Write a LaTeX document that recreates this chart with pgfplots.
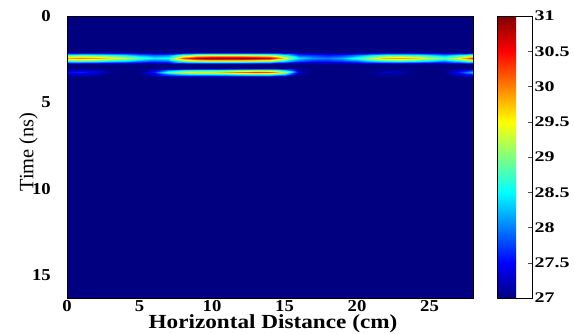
\documentclass[border=0pt]{standalone}
\usepackage{pgfplots}
\pgfplotsset{compat=1.18}
\usepackage{fontspec}
\setmainfont{Liberation Serif}
\begin{document}
\begin{tikzpicture}
\useasboundingbox (-50.25pt,-26.25pt) rectangle (380.25pt,223.5pt);
\begin{axis}[
  at={(0,0)}, anchor=south west,
  scale only axis, width=304.5pt, height=211.5pt,
  xmin=0, xmax=28, ymin=0, ymax=16.3,
  y dir=reverse,
  enlargelimits=false,
  axis on top,
  /pgf/number format/assume math mode=true,
  major tick length=0pt,
  xtick={0,5,10,15,20,25}, ytick={0,5,10,15},
  xticklabel={\scalebox{1.12}[1]{\pgfmathprintnumber{\tick}}},
  yticklabel={\scalebox{1.12}[1]{\pgfmathprintnumber{\tick}}},
  ticklabel style={font=\bfseries\fontsize{12.5}{14}\selectfont},
  xticklabel style={anchor=north, inner sep=0pt, yshift=-1.5pt},
  yticklabel style={anchor=east, inner sep=0pt, xshift=-12pt},
  xlabel={\scalebox{1.16}[1]{Horizontal Distance (cm)}},
  xlabel style={font=\bfseries\fontsize{15}{18}\selectfont, at={(axis description cs:0.5,0)}, anchor=north, inner sep=0pt, yshift=-12.6pt, xshift=2.25pt},
  ylabel={Time (ns)},
  ylabel style={font=\fontsize{15.3}{18}\selectfont, at={(axis description cs:-0.0714,0.518)}, anchor=south, inner sep=0pt},
  colormap/jet,
  point meta min=27, point meta max=31,
  colorbar,
  colorbar style={
    width=26.25pt,
    at={(parent axis.north east)}, anchor=north west, xshift=9.5pt,
    ytick={27,27.5,28,28.5,29,29.5,30,30.5,31},
    ytick pos=right, yticklabel pos=right,
    tick align=inside, major tick length=3pt,
    major tick style={black!70},
    /pgf/number format/assume math mode=true,
    yticklabel={\scalebox{1.36}[1]{\pgfmathprintnumber{\tick}}},
    yticklabel style={font=\bfseries\fontsize{11}{13}\selectfont, anchor=west, inner sep=0pt, xshift=1.8pt},
  },
]
\addplot[surf, shader=interp, mesh/cols=29, point meta=explicit] table[row sep=\\, x=x, y=y, meta=c] {
x y c\\
0 0 27\\ 1 0 27\\ 2 0 27\\ 3 0 27\\ 4 0 27\\ 5 0 27\\ 6 0 27\\ 7 0 27\\ 8 0 27\\ 9 0 27\\ 10 0 27\\ 11 0 27\\ 12 0 27\\ 13 0 27\\ 14 0 27\\ 15 0 27\\ 16 0 27\\ 17 0 27\\ 18 0 27\\ 19 0 27\\ 20 0 27\\ 21 0 27\\ 22 0 27\\ 23 0 27\\ 24 0 27\\ 25 0 27\\ 26 0 27\\ 27 0 27\\ 28 0 27\\
0 2.07 27\\ 1 2.07 27\\ 2 2.07 27\\ 3 2.07 27\\ 4 2.07 27\\ 5 2.07 27\\ 6 2.07 27\\ 7 2.07 27\\ 8 2.07 27\\ 9 2.07 27\\ 10 2.07 27\\ 11 2.07 27\\ 12 2.07 27\\ 13 2.07 27\\ 14 2.07 27\\ 15 2.07 27\\ 16 2.07 27\\ 17 2.07 27\\ 18 2.07 27\\ 19 2.07 27\\ 20 2.07 27\\ 21 2.07 27\\ 22 2.07 27\\ 23 2.07 27\\ 24 2.07 27\\ 25 2.07 27\\ 26 2.07 27\\ 27 2.07 27\\ 28 2.07 27\\
0 2.26 28.7\\ 1 2.26 28.8\\ 2 2.26 28.7\\ 3 2.26 28.6\\ 4 2.26 28.4\\ 5 2.26 28.1\\ 6 2.26 27.9\\ 7 2.26 28.0\\ 8 2.26 28.9\\ 9 2.26 29.3\\ 10 2.26 29.4\\ 11 2.26 29.4\\ 12 2.26 29.4\\ 13 2.26 29.3\\ 14 2.26 29.2\\ 15 2.26 28.6\\ 16 2.26 27.8\\ 17 2.26 27.7\\ 18 2.26 27.6\\ 19 2.26 27.7\\ 20 2.26 28.0\\ 21 2.26 28.4\\ 22 2.26 28.7\\ 23 2.26 28.7\\ 24 2.26 28.6\\ 25 2.26 28.4\\ 26 2.26 28.1\\ 27 2.26 28.5\\ 28 2.26 29.0\\
0 2.43 29.9\\ 1 2.43 30.0\\ 2 2.43 29.9\\ 3 2.43 29.6\\ 4 2.43 29.3\\ 5 2.43 28.9\\ 6 2.43 28.5\\ 7 2.43 28.6\\ 8 2.43 30.2\\ 9 2.43 30.8\\ 10 2.43 31.0\\ 11 2.43 31.0\\ 12 2.43 31.0\\ 13 2.43 30.9\\ 14 2.43 30.7\\ 15 2.43 29.6\\ 16 2.43 28.4\\ 17 2.43 28.1\\ 18 2.43 28.0\\ 19 2.43 28.2\\ 20 2.43 28.7\\ 21 2.43 29.3\\ 22 2.43 29.8\\ 23 2.43 29.9\\ 24 2.43 29.7\\ 25 2.43 29.3\\ 26 2.43 28.9\\ 27 2.43 29.5\\ 28 2.43 30.4\\
0 2.6 28.6\\ 1 2.6 28.7\\ 2 2.6 28.6\\ 3 2.6 28.4\\ 4 2.6 28.3\\ 5 2.6 28.0\\ 6 2.6 27.8\\ 7 2.6 27.9\\ 8 2.6 28.8\\ 9 2.6 29.1\\ 10 2.6 29.2\\ 11 2.6 29.2\\ 12 2.6 29.2\\ 13 2.6 29.1\\ 14 2.6 29.0\\ 15 2.6 28.4\\ 16 2.6 27.8\\ 17 2.6 27.6\\ 18 2.6 27.6\\ 19 2.6 27.7\\ 20 2.6 27.9\\ 21 2.6 28.3\\ 22 2.6 28.5\\ 23 2.6 28.6\\ 24 2.6 28.5\\ 25 2.6 28.3\\ 26 2.6 28.0\\ 27 2.6 28.4\\ 28 2.6 28.9\\
0 2.79 27\\ 1 2.79 27\\ 2 2.79 27\\ 3 2.79 27\\ 4 2.79 27\\ 5 2.79 27\\ 6 2.79 27\\ 7 2.79 27\\ 8 2.79 27\\ 9 2.79 27\\ 10 2.79 27\\ 11 2.79 27\\ 12 2.79 27\\ 13 2.79 27\\ 14 2.79 27\\ 15 2.79 27\\ 16 2.79 27\\ 17 2.79 27\\ 18 2.79 27\\ 19 2.79 27\\ 20 2.79 27\\ 21 2.79 27\\ 22 2.79 27\\ 23 2.79 27\\ 24 2.79 27\\ 25 2.79 27\\ 26 2.79 27\\ 27 2.79 27\\ 28 2.79 27\\
0 2.98 27\\ 1 2.98 27\\ 2 2.98 27\\ 3 2.98 27\\ 4 2.98 27\\ 5 2.98 27\\ 6 2.98 27\\ 7 2.98 27\\ 8 2.98 27\\ 9 2.98 27\\ 10 2.98 27\\ 11 2.98 27\\ 12 2.98 27\\ 13 2.98 27\\ 14 2.98 27\\ 15 2.98 27\\ 16 2.98 27\\ 17 2.98 27\\ 18 2.98 27\\ 19 2.98 27\\ 20 2.98 27\\ 21 2.98 27\\ 22 2.98 27\\ 23 2.98 27\\ 24 2.98 27\\ 25 2.98 27\\ 26 2.98 27\\ 27 2.98 27\\ 28 2.98 27\\
0 3.11 27.2\\ 1 3.11 27.3\\ 2 3.11 27.2\\ 3 3.11 27.0\\ 4 3.11 27\\ 5 3.11 27\\ 6 3.11 27.3\\ 7 3.11 28.0\\ 8 3.11 28.4\\ 9 3.11 28.5\\ 10 3.11 28.5\\ 11 3.11 28.6\\ 12 3.11 28.8\\ 13 3.11 28.9\\ 14 3.11 28.9\\ 15 3.11 28.4\\ 16 3.11 27.1\\ 17 3.11 27\\ 18 3.11 27\\ 19 3.11 27\\ 20 3.11 27\\ 21 3.11 27.0\\ 22 3.11 27.1\\ 23 3.11 27.1\\ 24 3.11 27\\ 25 3.11 27\\ 26 3.11 27\\ 27 3.11 27.3\\ 28 3.11 27.7\\
0 3.24 27.5\\ 1 3.24 27.6\\ 2 3.24 27.4\\ 3 3.24 27.1\\ 4 3.24 27\\ 5 3.24 27\\ 6 3.24 27.6\\ 7 3.24 28.8\\ 8 3.24 29.4\\ 9 3.24 29.6\\ 10 3.24 29.6\\ 11 3.24 29.8\\ 12 3.24 30.1\\ 13 3.24 30.3\\ 14 3.24 30.2\\ 15 3.24 29.4\\ 16 3.24 27.3\\ 17 3.24 27\\ 18 3.24 27\\ 19 3.24 27\\ 20 3.24 27\\ 21 3.24 27.1\\ 22 3.24 27.3\\ 23 3.24 27.2\\ 24 3.24 27\\ 25 3.24 27\\ 26 3.24 27\\ 27 3.24 27.6\\ 28 3.24 28.3\\
0 3.37 27.2\\ 1 3.37 27.3\\ 2 3.37 27.2\\ 3 3.37 27.0\\ 4 3.37 27\\ 5 3.37 27\\ 6 3.37 27.3\\ 7 3.37 28.0\\ 8 3.37 28.4\\ 9 3.37 28.5\\ 10 3.37 28.5\\ 11 3.37 28.6\\ 12 3.37 28.8\\ 13 3.37 28.9\\ 14 3.37 28.9\\ 15 3.37 28.4\\ 16 3.37 27.1\\ 17 3.37 27\\ 18 3.37 27\\ 19 3.37 27\\ 20 3.37 27\\ 21 3.37 27.0\\ 22 3.37 27.1\\ 23 3.37 27.1\\ 24 3.37 27\\ 25 3.37 27\\ 26 3.37 27\\ 27 3.37 27.3\\ 28 3.37 27.7\\
0 3.5 27\\ 1 3.5 27\\ 2 3.5 27\\ 3 3.5 27\\ 4 3.5 27\\ 5 3.5 27\\ 6 3.5 27\\ 7 3.5 27\\ 8 3.5 27\\ 9 3.5 27\\ 10 3.5 27\\ 11 3.5 27\\ 12 3.5 27\\ 13 3.5 27\\ 14 3.5 27\\ 15 3.5 27\\ 16 3.5 27\\ 17 3.5 27\\ 18 3.5 27\\ 19 3.5 27\\ 20 3.5 27\\ 21 3.5 27\\ 22 3.5 27\\ 23 3.5 27\\ 24 3.5 27\\ 25 3.5 27\\ 26 3.5 27\\ 27 3.5 27\\ 28 3.5 27\\
0 16.3 27\\ 1 16.3 27\\ 2 16.3 27\\ 3 16.3 27\\ 4 16.3 27\\ 5 16.3 27\\ 6 16.3 27\\ 7 16.3 27\\ 8 16.3 27\\ 9 16.3 27\\ 10 16.3 27\\ 11 16.3 27\\ 12 16.3 27\\ 13 16.3 27\\ 14 16.3 27\\ 15 16.3 27\\ 16 16.3 27\\ 17 16.3 27\\ 18 16.3 27\\ 19 16.3 27\\ 20 16.3 27\\ 21 16.3 27\\ 22 16.3 27\\ 23 16.3 27\\ 24 16.3 27\\ 25 16.3 27\\ 26 16.3 27\\ 27 16.3 27\\ 28 16.3 27\\
};
\end{axis}
\end{tikzpicture}
\end{document}
